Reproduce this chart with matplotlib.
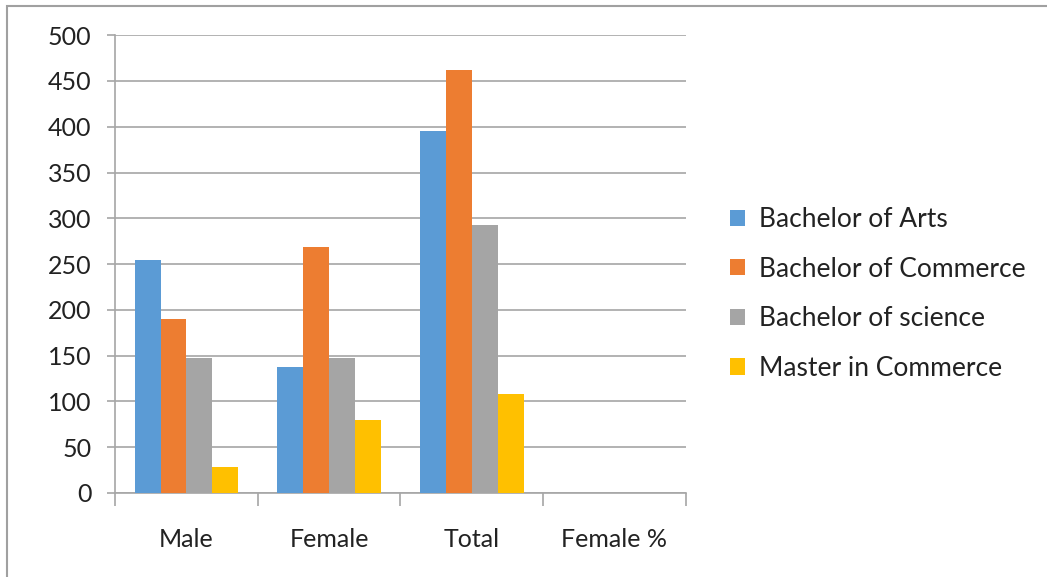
import numpy as np
import matplotlib.pyplot as plt
from matplotlib.patches import Rectangle

plt.rcParams["font.family"] = ["Lato", "DejaVu Sans"]

categories = ["Male", "Female", "Total", "Female %"]
series_names = ["Bachelor of Arts", "Bachelor of Commerce", "Bachelor of science", "Master in Commerce"]
arts = [254, 138, 395, 0]
commerce = [190, 269, 462, 0]
science = [147, 147, 293, 0]
master = [28, 80, 108, 0]
colors = ["#5b9bd5", "#ed7d31", "#a5a5a5", "#ffc000"]

fig = plt.figure(figsize=(10.47, 5.77), dpi=100)
ax = fig.add_axes([0.110, 0.1456, 0.545, 0.7934])

# frame around the chart area (only top/left visible in the crop)
fig.patches.append(Rectangle((7 / 1047, -0.1), 1.2, 1.1 - 5.5 / 577, transform=fig.transFigure,
                             fill=False, edgecolor="#a0a0a0", linewidth=1.5))

x = np.arange(len(categories))
width = 1 / 5.5
for i, (vals, name, c) in enumerate(zip([arts, commerce, science, master], series_names, colors)):
    ax.bar(x + (i - 1.5) * width, vals, width, color=c, label=name, zorder=3)

ax.set_xlim(-0.5, len(categories) - 0.5)
ax.set_ylim(0, 500)
ax.set_yticks(np.arange(0, 501, 50))
ax.yaxis.grid(True, color="#a6a6a6", linewidth=1.2, zorder=0)
ax.tick_params(axis="y", labelsize=18, length=6, color="#a6a6a6", width=1.2, pad=11, labelcolor="#222222")

ax.set_xticks(x)
ax.set_xticklabels(categories)
ax.set_xticks(np.arange(-0.5, len(categories)), minor=True)
ax.tick_params(axis="x", which="major", length=0, labelsize=18, pad=25, labelcolor="#222222")
ax.tick_params(axis="x", which="minor", length=9, color="#a6a6a6", width=1.2)

for s in ["top", "right"]:
    ax.spines[s].set_visible(False)
for s in ["left", "bottom"]:
    ax.spines[s].set_color("#a6a6a6")
    ax.spines[s].set_linewidth(1.2)

ax.legend(loc="center left", bbox_to_anchor=(1.035, 0.435), frameon=False, fontsize=19,
          handlelength=0.58, handleheight=0.58, handletextpad=0.55, labelspacing=0.93,
          labelcolor="#222222")

plt.savefig("out.png", dpi=100)
plt.close(fig)
